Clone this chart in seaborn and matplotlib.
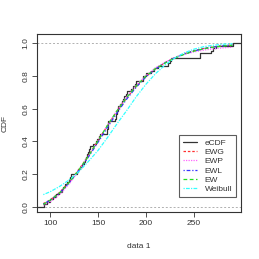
import numpy as np
import pandas as pd
import matplotlib
matplotlib.use("Agg")
import matplotlib.pyplot as plt
import seaborn as sns

# observed sample (read from the step heights of the eCDF)
data1 = [94, 97, 100, 103, 106, 109, 112, 114, 116, 118, 120, 121, 122,
         128, 129, 131, 133, 135, 136, 138, 139, 140, 141, 142, 145, 148,
         149, 151, 152, 159, 159, 160, 160, 160, 168, 169, 169, 170, 171,
         171, 173, 175, 176, 177, 179, 180, 184, 186, 188, 190, 197, 197,
         200, 205, 208, 212, 223, 225, 226, 256, 256, 268, 270, 273, 291]

# fitted CDF curves
grid = [93, 100, 110, 120, 130, 140, 150, 160, 170, 180, 190, 200, 210,
        220, 230, 240, 250, 260, 270, 280, 290]
ewg = [0.020, 0.042, 0.088, 0.152, 0.228, 0.312, 0.405, 0.498, 0.587, 0.667,
       0.737, 0.797, 0.845, 0.882, 0.912, 0.936, 0.955, 0.968, 0.978, 0.985, 0.990]
ewp = [0.010, 0.030, 0.075, 0.140, 0.220, 0.310, 0.405, 0.500, 0.592, 0.675,
       0.745, 0.803, 0.850, 0.885, 0.912, 0.932, 0.947, 0.958, 0.966, 0.972, 0.976]
ewl = [0.018, 0.040, 0.085, 0.148, 0.222, 0.305, 0.395, 0.487, 0.577, 0.660,
       0.733, 0.795, 0.843, 0.881, 0.911, 0.935, 0.953, 0.967, 0.977, 0.984, 0.989]
ew = [0.015, 0.040, 0.085, 0.150, 0.225, 0.310, 0.405, 0.500, 0.590, 0.670,
      0.740, 0.800, 0.845, 0.880, 0.910, 0.933, 0.952, 0.966, 0.976, 0.983, 0.988]
weibull = [0.075, 0.092, 0.125, 0.165, 0.215, 0.278, 0.345, 0.425, 0.510, 0.590,
           0.675, 0.750, 0.815, 0.868, 0.910, 0.942, 0.964, 0.979, 0.988, 0.994, 0.997]

sns.set_style("white")
plt.rcParams['font.family'] = ['Liberation Sans', 'DejaVu Sans']

fig = plt.figure(figsize=(2.59, 2.59), dpi=100)
ax = fig.add_axes([0.143, 0.181, 0.788, 0.688])
xlim = (86.5, 299)
ax.set_xlim(*xlim)
ax.set_ylim(-0.032, 1.057)

# reference lines of plot.ecdf
ax.axhline(0, color="#b0b0b0", ls=(0, (2, 2)), lw=0.7)
ax.axhline(1, color="#b0b0b0", ls=(0, (2, 2)), lw=0.7)

# empirical CDF
sns.ecdfplot(x=data1, ax=ax, color="#333333", lw=0.9, label="eCDF")
ax.hlines(0, xlim[0], min(data1), color="#333333", lw=0.9)
ax.hlines(1, max(data1), xlim[1], color="#333333", lw=0.9)

curves = pd.DataFrame({"x": grid, "EWG": ewg, "EWP": ewp, "EWL": ewl,
                       "EW": ew, "Weibull": weibull})
styles = {
    "EWG": ("#ff3030", (0, (2, 1.5))),
    "EWP": ("#ff66ff", (0, (1, 1))),
    "EWL": ("#3333ff", (0, (1, 1.5, 3, 1.5))),
    "EW": ("#22dd22", (0, (3, 2))),
    "Weibull": ("#33ffff", (0, (1, 1, 3, 1))),
}
for name, (col, ls) in styles.items():
    sns.lineplot(data=curves, x="x", y=name, ax=ax, color=col, lw=0.9,
                 linestyle=ls, label=name)

ax.set_xticks([100, 150, 200, 250])
ax.set_yticks([0.0, 0.2, 0.4, 0.6, 0.8, 1.0])
ax.set_yticklabels(["0.0", "0.2", "0.4", "0.6", "0.8", "1.0"], rotation=90,
                   va="center")
ax.tick_params(axis="both", direction="out", length=3.5, width=0.6,
               labelsize=6, colors="#333333", pad=2, bottom=True, left=True)
for s in ax.spines.values():
    s.set_color("#333333")
    s.set_linewidth(0.8)

ax.set_xlabel("data 1", fontsize=6, color="#333333", labelpad=12)
ax.set_ylabel("CDF", fontsize=6, color="#333333", labelpad=10)

leg = ax.legend(loc="lower right", bbox_to_anchor=(0.975, 0.084), fontsize=6,
                frameon=True, fancybox=False, edgecolor="#333333",
                handlelength=1.7, handletextpad=0.9, labelspacing=0.18,
                borderpad=0.45, borderaxespad=0)
leg.get_frame().set_linewidth(0.8)
for t in leg.get_texts():
    t.set_color("#333333")

fig.savefig("out.png", dpi=100)
